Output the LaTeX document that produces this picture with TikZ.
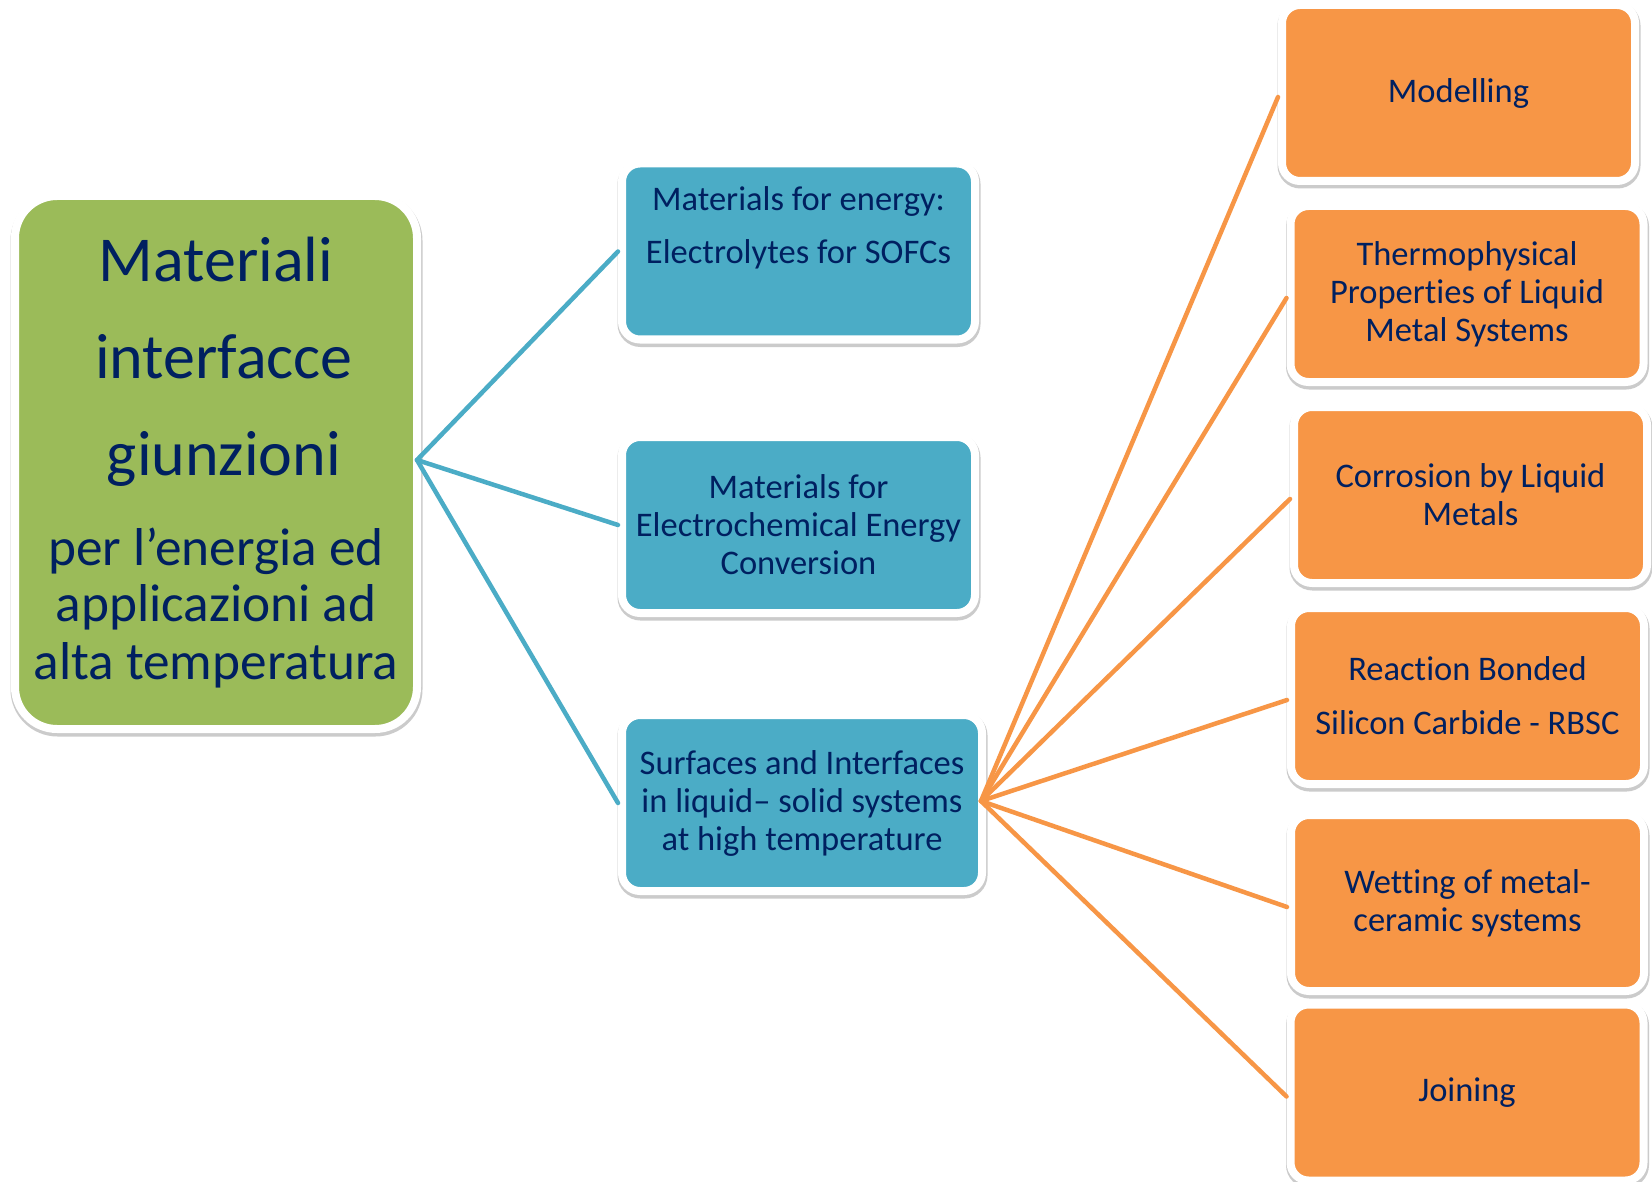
\documentclass[tikz,border=0pt]{standalone}
\usepackage{fontspec}
\setmainfont{Carlito}[Ligatures=NoCommon]
\usepackage{tikz}
\usetikzlibrary{shadows}
\definecolor{navytext}{HTML}{002060}
\definecolor{olivegreen}{HTML}{9BBB59}
\definecolor{aquablue}{HTML}{4BACC6}
\definecolor{softorange}{HTML}{F79646}
\newcommand{\lowerfont}{\fontsize{53.3}{56}\selectfont}

\begin{document}
\begin{tikzpicture}[x=1pt, y=-1pt,
  box/.style={
    draw=white, line width=8pt, rounded corners=18pt, align=center,
    inner sep=0pt, text=navytext, minimum width=353pt, minimum height=176pt,
    font=\fontsize{34.5}{38}\selectfont,
    general shadow={draw=black!45, fill=black!45, line width=10pt,
      shadow xshift=0.5pt, shadow yshift=-2.5pt, opacity=0.45}
  },
  mainbox/.style={box, fill=olivegreen, rounded corners=42pt,
    minimum width=402pt, minimum height=533pt, font=\fontsize{64}{97}\selectfont},
  topicbox/.style={box, fill=aquablue},
  leafbox/.style={box, fill=softorange},
  bluearr/.style={draw=aquablue, line width=4.5pt, line cap=round},
  orangearr/.style={draw=softorange, line width=4.5pt, line cap=round}
]
\useasboundingbox[fill=white] (0,0) rectangle (1652,1182);

% main topic
\node[mainbox] (main) at (216,462.5) {Materiali\\\hspace*{16pt}interfacce\\\hspace*{16pt}giunzioni\\[-7pt]%
  {\lowerfont per l’energia ed}\\[-41pt]{\lowerfont applicazioni ad}\\[-39pt]{\lowerfont alta temperatura}};

% research lines
\node[topicbox, font=\fontsize{34.5}{53}\selectfont] (t1) at (798.5,251.5) {Materials for energy:\\Electrolytes for SOFCs\\\mbox{}};
\node[topicbox] (t2) at (798.5,525) {Materials for\\Electrochemical Energy\\Conversion};
\node[topicbox, minimum width=360pt] (t3) at (802,803) {Surfaces and Interfaces\\in liquid– solid systems\\at high temperature};

% sub topics
\node[leafbox] (l1) at (1458.5,93) {Modelling};
\node[leafbox] (l2) at (1467,294) {Thermophysical\\Properties of Liquid\\Metal Systems};
\node[leafbox] (l3) at (1470.5,495) {Corrosion by Liquid\\Metals};
\node[leafbox, font=\fontsize{34.5}{54}\selectfont] (l4) at (1467.5,696) {Reaction Bonded\\Silicon Carbide - RBSC};
\node[leafbox] (l5) at (1467.5,903) {Wetting of metal-\\ceramic systems};
\node[leafbox] (l6) at (1467,1092.5) {Joining};

\coordinate (mainHub) at ([xshift=-4pt,yshift=2.5pt]main.east);
\coordinate (surfHub) at ([xshift=-5pt,yshift=2pt]t3.east);

\foreach \t in {t1,t2,t3}
  \draw[bluearr] (mainHub) -- (\t.west);
\foreach \l in {l1,l2,l3,l4,l5,l6}
  \draw[orangearr] (surfHub) -- ([yshift=-4pt]\l.west);
\end{tikzpicture}
\end{document}
